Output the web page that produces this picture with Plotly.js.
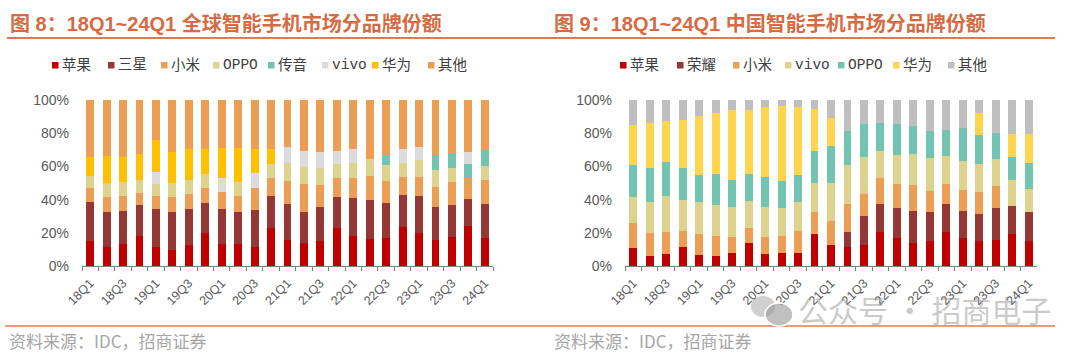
<!DOCTYPE html>
<html><head><meta charset="utf-8">
<script src="https://cdn.plot.ly/plotly-3.0.1.min.js"></script>
<style>html,body{margin:0;padding:0;background:#fff;}#chart{width:1080px;height:356px;}</style>
</head><body><div id="chart"></div>
<script>
// ---------- data ----------
const quarters = ['18Q1','18Q2','18Q3','18Q4','19Q1','19Q2','19Q3','19Q4','20Q1','20Q2','20Q3','20Q4',
  '21Q1','21Q2','21Q3','21Q4','22Q1','22Q2','22Q3','22Q4','23Q1','23Q2','23Q3','23Q4','24Q1'];

// Figure 8: global smartphone market share (%)
const g_apple     = [15.3,11.6,13.1,17.9,11.4,9.6,12.7,20.1,13.1,13.3,11.2,23.1,15.7,13.7,15.3,22.7,17.9,16.5,16.7,23.7,20.1,15.9,17.5,24.3,17.1];
const g_samsung   = [23.1,20.9,20.0,18.6,22.9,22.7,21.6,18.1,21.0,19.0,22.7,19.1,21.4,18.8,20.0,18.7,22.9,23.3,21.5,19.1,22.3,19.8,19.2,16.3,20.5];
const g_xiaomi    = [8.4,9.3,9.3,7.3,7.9,9.5,9.1,8.6,10.3,10.1,12.9,11.0,13.9,16.7,13.5,11.8,12.4,14.6,13.0,11.0,11.4,12.1,13.7,12.2,14.2];
const g_oppo      = [7.4,8.4,8.4,7.8,7.2,8.4,8.4,8.4,null,8.0,null,8.4,10.8,10.6,10.4,8.2,8.6,10.3,9.6,8.0,10.1,9.8,8.8,null,8.6];
const g_transsion = [null,null,null,null,null,null,null,null,null,null,null,null,null,null,null,null,null,null,6.1,null,null,9.3,8.7,8.4,9.5];
const g_vivo      = [null,null,null,null,7.2,null,null,null,8.8,null,9.0,null,10.1,9.5,9.7,7.9,8.5,null,null,8.5,7.6,null,null,7.3,null];
const g_huawei    = [11.5,15.9,14.9,16.1,19.5,18.3,18.7,15.3,18.1,20.9,14.7,8.9,null,null,null,null,null,null,null,null,null,null,null,null,null];
const g_other     = [34.3,33.9,34.3,32.3,23.9,31.5,29.5,29.5,28.7,28.7,29.5,29.5,28.1,30.7,31.1,30.7,29.7,35.3,33.1,29.7,28.5,33.1,32.1,31.5,30.1];

// Figure 9: China smartphone market share (%)
const c_apple  = [10.8,6.2,7.2,11.2,6.6,6.2,7.8,14.1,7.4,8.0,8.0,19.1,12.7,11.6,12.9,20.7,16.7,14.1,15.3,20.7,17.1,15.3,15.9,19.5,15.3];
const c_honor  = [null,null,null,null,null,null,null,null,null,null,null,null,null,9.1,17.4,16.6,18.0,19.0,17.4,16.4,16.0,16.0,19.2,16.8,17.0];
const c_xiaomi = [14.9,13.9,13.5,9.7,12.5,12.1,9.9,9.0,10.3,10.3,12.9,13.6,14.4,16.6,13.1,15.9,14.7,15.7,12.7,12.1,12.9,13.1,13.3,null,null];
const c_vivo   = [16.1,18.3,21.5,18.7,19.3,18.4,17.8,16.3,17.8,16.8,17.5,17.5,23.1,23.5,22.1,16.3,17.5,18.7,19.5,17.1,17.5,17.0,15.9,15.5,14.1];
const c_oppo   = [19.0,20.8,20.2,19.6,16.4,18.7,16.5,16.0,17.9,16.1,16.4,19.1,22.3,20.7,19.8,16.4,18.6,16.8,16.4,15.4,19.4,17.5,16.0,13.7,15.8];
const c_huawei = [24.1,27.1,24.9,28.8,35.8,37.0,42.0,38.6,42.2,45.2,41.2,25.3,16.5,null,null,null,null,null,null,null,null,13.1,null,14.2,17.1];
const c_other  = [15.1,13.7,12.7,12.0,9.4,7.6,6.0,6.0,4.4,3.6,4.0,5.4,11.0,18.5,14.7,14.1,14.5,15.7,18.7,18.3,17.1,8.0,19.7,20.3,20.7];

const yTicks = [0,20,40,60,80,100];
const yTickText = ['0%','20%','40%','60%','80%','100%'];

// ---------- styling ----------
const W = 1080, H = 356;
const px = x => x / W;
const py = y => 1 - y / H;

const globalSeries = [
  {name:'苹果', values:g_apple,     color:'#C00000'},
  {name:'三星', values:g_samsung,   color:'#953735'},
  {name:'小米', values:g_xiaomi,    color:'#EE9D55'},
  {name:'OPPO', values:g_oppo,      color:'#DDD38C'},
  {name:'传音', values:g_transsion, color:'#72C3B0'},
  {name:'vivo', values:g_vivo,      color:'#DCDCDC'},
  {name:'华为', values:g_huawei,    color:'#FFC000'},
  {name:'其他', values:g_other,     color:'#EE9D55'}
];
const chinaSeries = [
  {name:'苹果', values:c_apple,  color:'#C00000'},
  {name:'荣耀', values:c_honor,  color:'#953735'},
  {name:'小米', values:c_xiaomi, color:'#EE9D55'},
  {name:'vivo', values:c_vivo,   color:'#DDD38C'},
  {name:'OPPO', values:c_oppo,   color:'#72C3B0'},
  {name:'华为', values:c_huawei, color:'#FFD54F'},
  {name:'其他', values:c_other,  color:'#BFBFBF'}
];

const gLegendX = [52,108,161,213,268,322,372,428];
const cLegendX = [620,677,733,785,838,893,948];

const traces = [];
globalSeries.forEach(s => traces.push({
  type:'bar', x:quarters, y:s.values, name:s.name, xaxis:'x', yaxis:'y',
  marker:{color:s.color, line:{width:0}}, showlegend:false,
  hovertemplate:'%{x} '+s.name+': %{y}%<extra></extra>'
}));
chinaSeries.forEach(s => traces.push({
  type:'bar', x:quarters, y:s.values, name:s.name, xaxis:'x2', yaxis:'y2',
  marker:{color:s.color, line:{width:0}}, showlegend:false,
  hovertemplate:'%{x} '+s.name+': %{y}%<extra></extra>'
}));

const tickText = quarters.map((q,i) => i % 2 === 0 ? q : '');
const axisFont = {family:'Liberation Sans, Arial, sans-serif', size:14, color:'#595959'};

function xAxis(domain, anchor){
  return {domain:domain, anchor:anchor, type:'category', categoryorder:'array', categoryarray:quarters,
    tickvals:quarters, ticktext:tickText, tickangle:-45, tickson:'boundaries',
    ticks:'outside', ticklen:4, tickwidth:1, tickcolor:'#7F7F7F', ticklabelstandoff:4,
    showline:true, linecolor:'#7F7F7F', linewidth:1, showgrid:false, zeroline:false,
    tickfont:{family:'Liberation Sans, Arial, sans-serif', size:12.5, color:'#595959'}, fixedrange:true};
}
function yAxis(anchor){
  return {domain:[py(266), py(100)], anchor:anchor, range:[0,100], tickmode:'array', tickvals:yTicks, ticktext:yTickText,
    showgrid:false, zeroline:false, showline:false, ticks:'', ticklabelstandoff:12,
    tickfont:axisFont, fixedrange:true};
}

const annotations = [];
const shapes = [];
const titleFont = {family:'Liberation Sans, Noto Sans CJK SC, sans-serif', size:20, color:'#D46B43', weight:700};
annotations.push({xref:'paper', yref:'paper', x:px(8), y:py(24), xanchor:'left', yanchor:'middle', showarrow:false,
  text:'图 8：18Q1~24Q1 全球智能手机市场分品牌份额', font:titleFont});
annotations.push({xref:'paper', yref:'paper', x:px(552), y:py(24), xanchor:'left', yanchor:'middle', showarrow:false,
  text:'图 9：18Q1~24Q1 中国智能手机市场分品牌份额', font:titleFont});
shapes.push({type:'line', xref:'paper', yref:'paper', x0:px(7), x1:px(1055), y0:py(38), y1:py(38), line:{color:'#E07A55', width:2}});
shapes.push({type:'line', xref:'paper', yref:'paper', x0:px(5), x1:px(1055), y0:py(326), y1:py(326), line:{color:'#E07A55', width:1.5}});

const legFont = {family:'Liberation Mono, Noto Sans CJK SC, monospace', size:14.5, color:'#404040'};
function addLegend(series, xs){
  series.forEach((s,i) => {
    shapes.push({type:'rect', xref:'paper', yref:'paper', x0:px(xs[i]), x1:px(xs[i]+6.5), y0:py(68.5), y1:py(62),
      fillcolor:s.color, line:{width:0}});
    annotations.push({xref:'paper', yref:'paper', x:px(xs[i]+8), y:py(65.5), xanchor:'left', yanchor:'middle',
      showarrow:false, text:s.name, font:legFont});
  });
}
addLegend(globalSeries, gLegendX);
addLegend(chinaSeries, cLegendX);

const srcFont = {family:'Noto Sans CJK SC, sans-serif', size:17, color:'#A6A6A6'};
annotations.push({xref:'paper', yref:'paper', x:px(7), y:py(340), xanchor:'left', yanchor:'middle', showarrow:false,
  text:'资料来源：IDC，招商证券', font:srcFont});
annotations.push({xref:'paper', yref:'paper', x:px(552), y:py(340), xanchor:'left', yanchor:'middle', showarrow:false,
  text:'资料来源：IDC，招商证券', font:srcFont});

// watermark
shapes.push({type:'circle', xref:'paper', yref:'paper', x0:px(751), x1:px(775), y0:py(317), y1:py(296),
  fillcolor:'rgba(170,170,170,0.55)', line:{width:0}});
shapes.push({type:'circle', xref:'paper', yref:'paper', x0:px(765), x1:px(793), y0:py(326), y1:py(303),
  fillcolor:'rgba(150,150,150,0.6)', line:{color:'#ffffff', width:1.5}});
annotations.push({xref:'paper', yref:'paper', x:px(796), y:py(309), xanchor:'left', yanchor:'middle', showarrow:false,
  text:'公众号 · 招商电子', font:{family:'Noto Sans CJK SC, sans-serif', size:30, color:'rgba(150,150,150,0.5)'}});

const layout = {
  width:W, height:H, margin:{l:0, r:0, t:0, b:0}, paper_bgcolor:'#ffffff', plot_bgcolor:'#ffffff',
  barmode:'stack', bargap:0.52, showlegend:false,
  xaxis: xAxis([px(82), px(493)], 'y'),
  yaxis: yAxis('x'),
  xaxis2: xAxis([px(625), px(1037)], 'y2'),
  yaxis2: yAxis('x2'),
  annotations: annotations, shapes: shapes,
  font:{family:'Liberation Sans, Noto Sans CJK SC, sans-serif'}
};
Plotly.newPlot('chart', traces, layout, {staticPlot:true, displayModeBar:false});
</script></body></html>
